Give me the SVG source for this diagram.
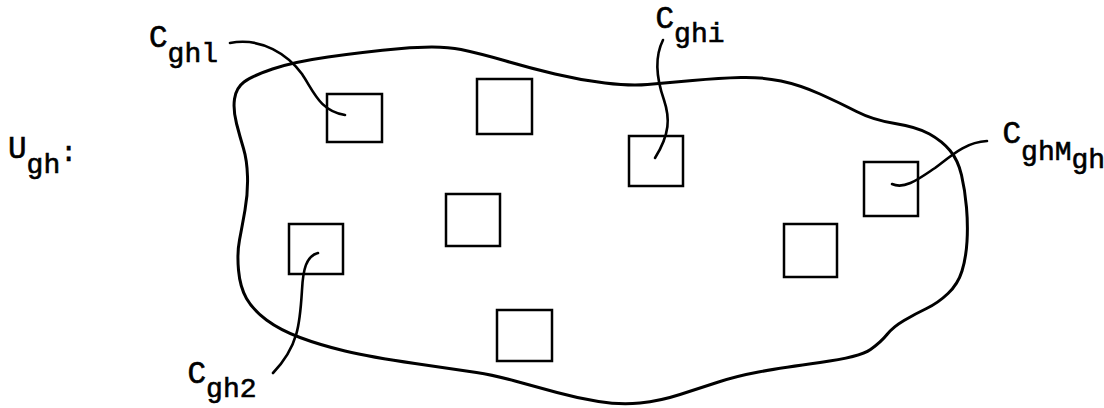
<svg xmlns="http://www.w3.org/2000/svg" width="1104" height="408" viewBox="0 0 1104 408">
<style>
.lbl{font-family:"Liberation Mono","Courier New",monospace;font-size:28px;fill:#000;stroke:#000;stroke-width:0.6}
.cap{font-size:31px}
.box{fill:none;stroke:#000;stroke-width:2.5}
.blob{fill:none;stroke:#000;stroke-width:3;stroke-linejoin:round}
.con{fill:none;stroke:#000;stroke-width:2.6;stroke-linecap:round}
</style>
<rect width="1104" height="408" fill="#fff"/>
<g id="set-label">
<text class="lbl" x="8" y="158"><tspan class="cap">U</tspan><tspan dy="15">gh</tspan><tspan dy="-12">:</tspan></text>
</g>
<g id="blob">
<path class="blob" d="M236.5,123.5 Q233,110 234.5,99 Q236,88 244,82 Q252,76 272.5,69 Q293,62 328,57 Q363,52 401.5,48.5 Q440,45 461,49.5 Q482,54 506,61 Q530,68 555,74 Q580,80 605,83 Q630,86 647.5,84.5 Q665,83 692.5,80.5 Q720,78 741,77.5 Q762,77 781,81 Q800,85 820,94 Q840,103 856.5,111.5 Q873,120 895,123.5 Q917,127 929.5,134 Q942,141 950,150.5 Q958,160 961.5,175 Q965,190 966.5,207.5 Q968,225 967,241.5 Q966,258 962,271 Q958,284 948,293.5 Q938,303 926.5,308.5 Q915,314 904,320.5 Q893,327 887,334.5 Q881,342 870.5,349.5 Q860,357 820,362.5 Q780,368 758.5,372 Q737,376 718.5,382 Q700,388 680,394.5 Q660,401 640,403 Q620,405 598.5,401.5 Q577,398 557,392.5 Q537,387 515,381 Q493,375 476.5,372.5 Q460,370 415,363.5 Q370,357 345,351 Q320,345 300,337.5 Q280,330 266.5,320 Q253,310 246.5,298.5 Q240,287 238.5,270 Q237,253 239.5,240 Q242,227 245,210 Q248,193 247.5,176.5 Q247,160 243.5,148.5 Q240,137 236.5,123.5 Z"/>
</g>
<g id="c1"><rect class="box" x="327" y="94" width="55" height="48"/></g>
<g id="c-b"><rect class="box" x="477" y="79" width="55" height="55"/></g>
<g id="ci"><rect class="box" x="629" y="136" width="54" height="50"/></g>
<g id="cM"><rect class="box" x="864" y="162" width="54" height="54"/></g>
<g id="c-e"><rect class="box" x="446" y="194" width="54" height="52"/></g>
<g id="c2"><rect class="box" x="289" y="224" width="54" height="50"/></g>
<g id="c-g"><rect class="box" x="784" y="224" width="53" height="53"/></g>
<g id="c-h"><rect class="box" x="497" y="310" width="55" height="51"/></g>
<g id="connectors">
<path class="con" d="M230,43 C262,37 288,55 302,74 C314,92 320,111 345,115"/>
<path class="con" d="M663,40 C654,58 657,80 664,100 C670,118 670,134 655,158"/>
<path class="con" d="M892,184 C905,190 920,178 935,168 C952,155 966,142 987,141"/>
<path class="con" d="M318,253 C306,256 303,270 302,290 C300,322 299,346 273,373"/>
</g>
<g id="labels">
<text class="lbl" x="149" y="47"><tspan class="cap">C</tspan><tspan dy="15">ghl</tspan></text>
<text class="lbl" x="655.5" y="28"><tspan class="cap">C</tspan><tspan dy="14">ghi</tspan></text>
<text class="lbl" x="1002.5" y="143"><tspan class="cap">C</tspan><tspan dy="17">ghM</tspan><tspan dy="8">gh</tspan></text>
<text class="lbl" x="187.5" y="383"><tspan class="cap">C</tspan><tspan dy="14">gh2</tspan></text>
</g>
</svg>
